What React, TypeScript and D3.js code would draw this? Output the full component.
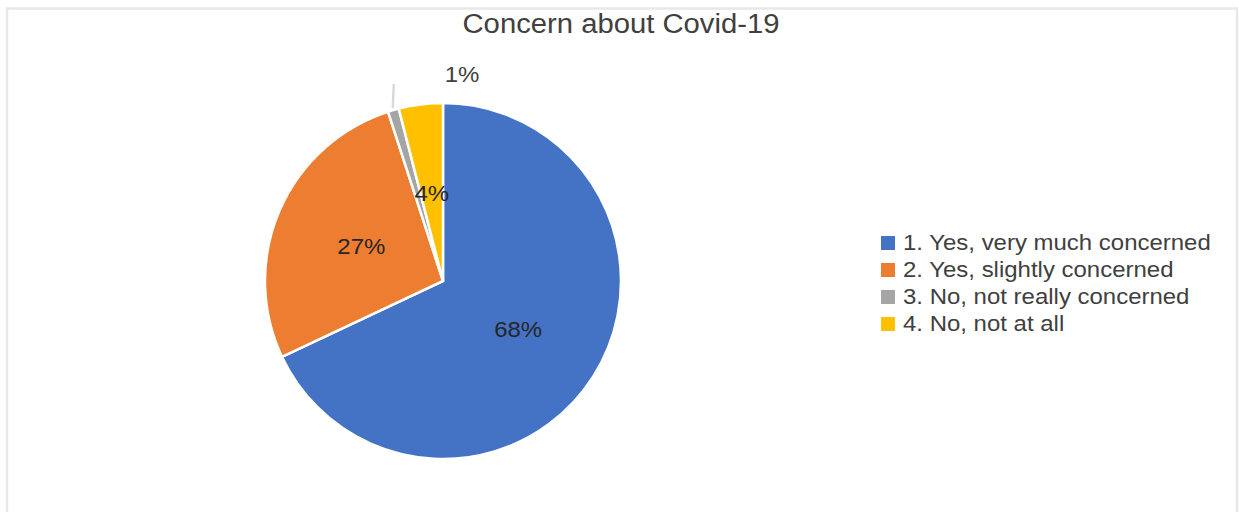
import React from "react";
import * as d3 from "d3";

const categories = [
  "1. Yes, very much concerned",
  "2. Yes, slightly concerned",
  "3. No, not really concerned",
  "4. No, not at all",
];
const values = [68, 27, 1, 4];
const colors = ["#4472C4", "#ED7D31", "#A5A5A5", "#FFC000"];
const title = "Concern about Covid-19";

const W = 1239;
const H = 512;
const cx = 443;
const cy = 281;
const R = 178;
const FONT = "'Liberation Sans', Arial, sans-serif";
const SX = 1.09;

function T(props: { x: number; y: number; anchor?: string; size: number; fill: string; children: React.ReactNode }) {
  return (
    <text
      transform={`translate(${props.x},${props.y}) scale(${SX},1)`}
      textAnchor={props.anchor || "start"}
      fontFamily={FONT}
      fontSize={props.size}
      fill={props.fill}
    >
      {props.children}
    </text>
  );
}

export default function App() {
  const pie = d3.pie<number>().sort(null).value((d) => d)(values);
  const arc = d3.arc<d3.PieArcDatum<number>>().innerRadius(0).outerRadius(R);
  const labelArc = d3.arc<d3.PieArcDatum<number>>().innerRadius(R / 2).outerRadius(R / 2);
  const total = d3.sum(values);

  const small = pie[2];
  const smallMid = (small.startAngle + small.endAngle) / 2;
  const lx1 = Math.sin(smallMid) * (R + 2);
  const ly1 = -Math.cos(smallMid) * (R + 2);

  return (
    <svg
      width={W}
      height={H}
      style={{ position: "absolute", left: 0, top: 0, background: "#fff" }}
    >
      <rect x={7} y={8.5} width={1230} height={520} fill="#fff" stroke="#e8e8e8" strokeWidth={2.5} />
      <text
        x={621}
        y={33}
        textAnchor="middle"
        fontFamily={FONT}
        fontSize={27}
        fill="#404040"
        textLength={317}
        lengthAdjust="spacingAndGlyphs"
      >
        {title}
      </text>
      <g transform={`translate(${cx},${cy})`}>
        {pie.map((p, i) => (
          <path key={i} d={arc(p) || ""} fill={colors[i]} stroke="#fff" strokeWidth={2.5} />
        ))}
        <line
          x1={lx1}
          y1={ly1}
          x2={lx1 + 1}
          y2={ly1 - 24}
          stroke="#d9d9d9"
          strokeWidth={2.5}
        />
        {pie.map((p, i) => {
          if (i === 2) return null;
          const [x, y] = labelArc.centroid(p);
          return (
            <T key={i} x={x} y={y + 8} anchor="middle" size={22} fill="#262626">
              {`${Math.round((values[i] / total) * 100)}%`}
            </T>
          );
        })}
        <T x={19} y={-199} anchor="middle" size={22} fill="#404040">
          {`${Math.round((values[2] / total) * 100)}%`}
        </T>
      </g>
      <g transform="translate(881,236)">
        {categories.map((c, i) => (
          <g key={i} transform={`translate(0,${i * 27})`}>
            <rect x={0} y={0} width={14} height={14} fill={colors[i]} />
            <T x={22} y={14} size={22} fill="#404040">
              {c}
            </T>
          </g>
        ))}
      </g>
    </svg>
  );
}
